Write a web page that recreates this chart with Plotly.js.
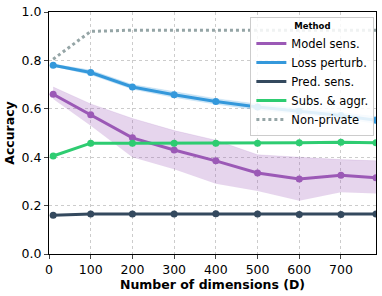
<!DOCTYPE html>
<html><head><meta charset="utf-8">
<script src="https://cdn.plot.ly/plotly-3.0.1.min.js"></script>
<style>body{margin:0}#c{width:382px;height:296px}</style>
</head><body><div id="c"></div>
<script>
var dims = [10, 100, 200, 300, 400, 500, 600, 700, 784];
var modelSens = [0.66, 0.575, 0.48, 0.43, 0.385, 0.335, 0.31, 0.325, 0.315];
var modelSensHi = [0.69, 0.62, 0.56, 0.51, 0.47, 0.41, 0.40, 0.39, 0.385];
var modelSensLo = [0.64, 0.53, 0.40, 0.35, 0.29, 0.26, 0.22, 0.255, 0.25];
var lossPert = [0.78, 0.75, 0.69, 0.658, 0.63, 0.607, 0.59, 0.572, 0.553];
var lossPertHi = [0.785, 0.76, 0.70, 0.67, 0.642, 0.62, 0.603, 0.585, 0.568];
var lossPertLo = [0.775, 0.74, 0.68, 0.646, 0.618, 0.594, 0.577, 0.559, 0.538];
var predSens = [0.16, 0.165, 0.165, 0.165, 0.166, 0.165, 0.163, 0.163, 0.165];
var subsAggr = [0.405, 0.458, 0.458, 0.458, 0.458, 0.458, 0.46, 0.462, 0.46];
var nonPriv = [0.805, 0.92, 0.925, 0.925, 0.925, 0.925, 0.925, 0.925, 0.925];
var names = ["Model sens.", "Loss perturb.", "Pred. sens.", "Subs. & aggr.", "Non-private"];
var colors = ["#9b59b6", "#3498db", "#34495e", "#2ecc71", "#95a5a6"];

function band(lo, hi, col) {
  return [
    {x: dims, y: lo, mode: "lines", line: {width: 0}, showlegend: false, hoverinfo: "skip"},
    {x: dims, y: hi, mode: "lines", line: {width: 0.5, color: col}, fill: "tonexty", fillcolor: col, showlegend: false, hoverinfo: "skip"}
  ];
}
function line(y, i) {
  return {x: dims, y: y, name: names[i], mode: "lines+markers", showlegend: false,
    line: {color: colors[i], width: 3}, marker: {color: colors[i], size: 7}};
}
var traces = [];
traces = traces.concat(band(modelSensLo, modelSensHi, "rgba(155,89,182,0.25)"));
traces = traces.concat(band(lossPertLo, lossPertHi, "rgba(52,152,219,0.25)"));
traces.push(line(modelSens, 0));
traces.push(line(lossPert, 1));
traces.push(line(predSens, 2));
traces.push(line(subsAggr, 3));
traces.push({x: dims, y: nonPriv, name: names[4], mode: "lines", showlegend: false,
  line: {color: colors[4], width: 3, dash: "dot"}});
// legend entries (line only)
for (var i = 0; i < names.length; i++) {
  traces.push({x: [null], y: [null], name: names[i], mode: "lines", showlegend: true,
    line: {color: colors[i], width: 3, dash: i === 4 ? "dot" : "solid"}});
}

var layout = {
  width: 382, height: 296,
  margin: {l: 49, r: 6, t: 12, b: 42},
  paper_bgcolor: "white", plot_bgcolor: "white",
  font: {family: "DejaVu Sans", color: "black", size: 12},
  xaxis: {range: [0, 784], tickvals: [0,100,200,300,400,500,600,700], ticks: "outside", ticklen: 4,
    showline: true, mirror: true, linecolor: "black", linewidth: 1,
    showgrid: true, gridcolor: "#cccccc", griddash: "dot", zeroline: false,
    title: {text: "<b>Number of dimensions (D)</b>", font: {size: 12.5}, standoff: 2}, tickfont: {size: 12.5}},
  yaxis: {range: [0, 1], tickvals: [0,0.2,0.4,0.6,0.8,1.0], ticktext: ["0.0","0.2","0.4","0.6","0.8","1.0"],
    ticks: "outside", ticklen: 4,
    showline: true, mirror: true, linecolor: "black", linewidth: 1,
    showgrid: true, gridcolor: "#cccccc", griddash: "dot", zeroline: false,
    title: {text: "<b>Accuracy</b>", font: {size: 12.5}, standoff: 4}, tickfont: {size: 12.5}},
  legend: {x: 0.995, y: 0.98, xanchor: "right", yanchor: "top", traceorder: "normal",
    bgcolor: "rgba(255,255,255,0.85)", bordercolor: "#cccccc", borderwidth: 1,
    title: {text: "<b>Method</b>", font: {size: 8.5}, side: "top center"},
    font: {size: 11.5}, tracegroupgap: 0, itemwidth: 30}
};
Plotly.newPlot("c", traces, layout, {staticPlot: true});
</script></body></html>
